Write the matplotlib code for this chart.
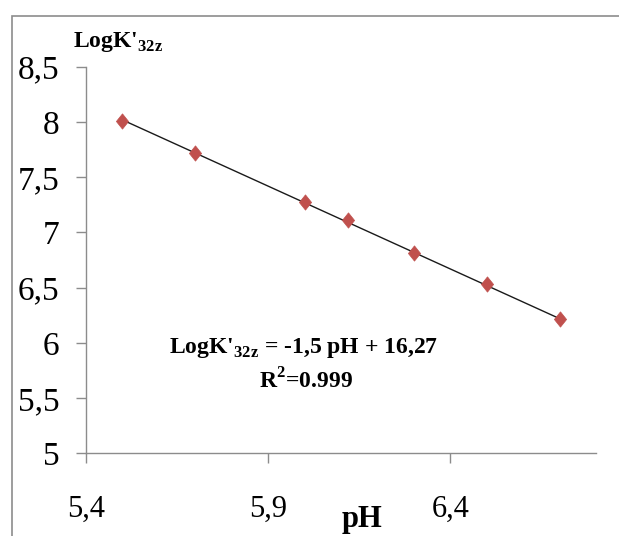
import numpy as np
import matplotlib
matplotlib.use("Agg")
import matplotlib.pyplot as plt
from matplotlib.path import Path
from matplotlib.patches import Rectangle
from matplotlib.ticker import FuncFormatter

# ---- data ----
ph = [5.50, 5.70, 6.00, 6.12, 6.30, 6.50, 6.70]
logk = [8.01, 7.72, 7.28, 7.11, 6.81, 6.53, 6.22]
slope = -1.5
intercept = 16.27
x_ticks = [5.4, 5.9, 6.4]
y_ticks = [5, 5.5, 6, 6.5, 7, 7.5, 8, 8.5]

plt.rcParams['font.family'] = ['Liberation Serif', 'DejaVu Serif']
plt.rcParams['mathtext.fontset'] = 'custom'
plt.rcParams['mathtext.rm'] = 'Liberation Serif'
plt.rcParams['mathtext.bf'] = 'Liberation Serif:bold'

W, H = 619, 536
fig = plt.figure(figsize=(W / 100, H / 100), dpi=100)
ax = fig.add_axes([86 / W, 1 - 453.3 / H, (596 - 86) / W, (453.3 - 66.9) / H])

# outer gray frame
fig.patches.append(Rectangle((12 / W, -0.2), 1.2, 0.2 + (H - 16) / H,
                             transform=fig.transFigure, fill=False,
                             edgecolor='#8c8c8c', linewidth=1.2, clip_on=False))

diamond = Path([(0, 1), (0.8, 0), (0, -1), (-0.8, 0), (0, 1)],
               [Path.MOVETO, Path.LINETO, Path.LINETO, Path.LINETO, Path.CLOSEPOLY])

xfit = np.array([ph[0], ph[-1]])
ax.plot(xfit, slope * xfit + intercept, color='#1a1a1a', lw=1.0, zorder=2)
ax.plot(ph, logk, linestyle='none', marker=diamond, markersize=11,
        markerfacecolor='#C0504D', markeredgecolor='#C0504D', markeredgewidth=0.5, zorder=3)

ax.set_xlim(5.4, 6.8)
ax.set_ylim(5, 8.5)
ax.set_xticks(x_ticks)
ax.set_yticks(y_ticks)
fmt = FuncFormatter(lambda v, p: ('%g' % v).replace('.', ','))
ax.xaxis.set_major_formatter(fmt)
ax.yaxis.set_major_formatter(fmt)

for s in ['top', 'right']:
    ax.spines[s].set_visible(False)
for s in ['left', 'bottom']:
    ax.spines[s].set_color('#8c8c8c')
    ax.spines[s].set_linewidth(1.0)

ax.tick_params(axis='x', direction='out', length=7, width=1.0, color='#8c8c8c',
               labelsize=22, pad=23)
ax.tick_params(axis='y', direction='out', length=7, width=1.0, color='#8c8c8c',
               labelsize=24, pad=12)

# axis titles
fig.text(73 / W, 1 - 47 / H, r"LogK'$_{\mathbf{32z}}$", fontsize=17, fontweight='bold',
         ha='left', va='baseline')
fig.text(362 / W, 1 - 527 / H, 'pH', fontsize=22, fontweight='bold',
         ha='center', va='baseline')

# equation
fig.text(304 / W, 1 - 348 / H, r"LogK'$_{\mathbf{32z}}$ = -1,5 pH + 16,27", fontsize=17,
         fontweight='bold', ha='center', va='center')
fig.text(306 / W, 1 - 381 / H, r"R$^{\mathbf{2}}$=0.999", fontsize=17, fontweight='bold',
         ha='center', va='center')

fig.savefig('out.png', dpi=100)
